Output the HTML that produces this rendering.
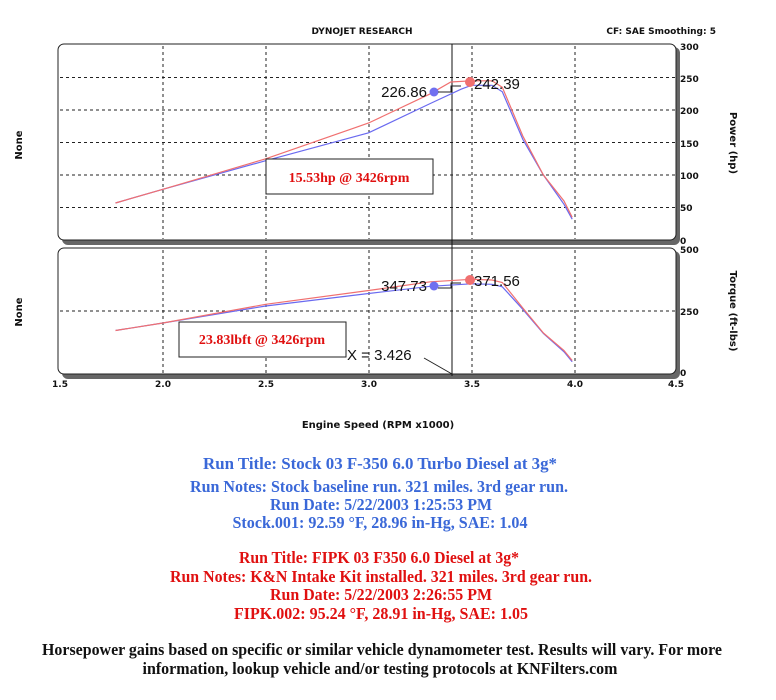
<!DOCTYPE html><html><head><style>body{margin:0;background:#fff}svg{display:block}</style></head><body>
<svg width="776" height="700" xmlns="http://www.w3.org/2000/svg" font-family="DejaVu Sans, sans-serif">
<text x="362" y="34" font-size="9" font-weight="bold" text-anchor="middle" fill="#111">DYNOJET RESEARCH</text>
<text x="716" y="34" font-size="9" font-weight="bold" text-anchor="end" fill="#111">CF: SAE  Smoothing: 5</text>
<rect x="62" y="47" width="618" height="198" rx="6" fill="#666"/>
<rect x="58" y="44" width="618" height="196" rx="6" fill="#fff" stroke="#222"/>
<rect x="62" y="251" width="618" height="128" rx="6" fill="#666"/>
<rect x="58" y="248" width="618" height="126" rx="6" fill="#fff" stroke="#222"/>
<g stroke="#222" stroke-dasharray="3,3" stroke-width="1">
<line x1="163" y1="46" x2="163" y2="239"/><line x1="266" y1="46" x2="266" y2="239"/><line x1="369" y1="46" x2="369" y2="239"/><line x1="472" y1="46" x2="472" y2="239"/><line x1="575" y1="46" x2="575" y2="239"/>
<line x1="60" y1="77.5" x2="675" y2="77.5"/><line x1="60" y1="110" x2="675" y2="110"/><line x1="60" y1="142.5" x2="675" y2="142.5"/><line x1="60" y1="175" x2="675" y2="175"/><line x1="60" y1="207.5" x2="675" y2="207.5"/>
<line x1="163" y1="250" x2="163" y2="373"/><line x1="266" y1="250" x2="266" y2="373"/><line x1="369" y1="250" x2="369" y2="373"/><line x1="472" y1="250" x2="472" y2="373"/><line x1="575" y1="250" x2="575" y2="373"/>
<line x1="60" y1="311" x2="675" y2="311"/>
</g>
<line x1="452" y1="44" x2="452" y2="376" stroke="#111"/>
<polyline fill="none" stroke="#6a6af0" stroke-width="1.2" points="115.5,203 162.9,189.3 265.7,160.7 368.6,132.8 430.3,103.5 461.1,89.2 471.4,85.3 492,85.3 502.3,91.8 522.8,139.3 543.4,175 564,204.3 572.2,219.2"/>
<polyline fill="none" stroke="#f07070" stroke-width="1.2" points="115.5,203 162.9,189.3 265.7,158.8 368.6,123 430.3,93.8 450.8,82 471.4,80.8 492,80.8 502.3,87.3 522.8,136 543.4,175 564,201 572.2,217.3"/>
<polyline fill="none" stroke="#6a6af0" stroke-width="1.2" points="115.5,330.5 162.9,323 265.7,306 368.6,293.5 430.3,286.3 471.4,283.8 492,284.3 502.3,286.8 522.8,309.3 543.4,333.5 564,351.8 572.2,361.8"/>
<polyline fill="none" stroke="#f07070" stroke-width="1.2" points="115.5,330.5 162.9,323 265.7,304.3 368.6,290.5 430.3,281.8 471.4,279.3 492,280 502.3,282.5 522.8,308 543.4,333 564,350.5 572.2,360.5"/>
<circle cx="434" cy="92" r="4.5" fill="#7070f0"/><circle cx="470" cy="82" r="5" fill="#f07070"/>
<circle cx="434" cy="286" r="4.5" fill="#7070f0"/><circle cx="470" cy="280" r="5" fill="#f07070"/>
<g stroke="#222" fill="none"><polyline points="438,92 451,92 451,86 461,86"/><polyline points="438,288 451,288 451,283 461,283"/><line x1="424" y1="358" x2="452" y2="374"/></g>
<g font-family="Liberation Sans, sans-serif" font-size="15" fill="#111">
<text x="474" y="89">242.39</text><text x="427" y="97" text-anchor="end">226.86</text>
<text x="474" y="286">371.56</text><text x="427" y="291" text-anchor="end">347.73</text>
<text x="347" y="360">X = 3.426</text></g>
<rect x="266" y="159" width="167" height="35" fill="#fff" stroke="#222"/>
<text x="349" y="182" font-family="Liberation Serif, serif" font-weight="bold" font-size="14" fill="#e01010" text-anchor="middle">15.53hp @ 3426rpm</text>
<rect x="179" y="322" width="167" height="35" fill="#fff" stroke="#222"/>
<text x="262" y="344" font-family="Liberation Serif, serif" font-weight="bold" font-size="14" fill="#e01010" text-anchor="middle">23.83lbft @ 3426rpm</text>
<g font-size="9" font-weight="bold" fill="#111">
<text x="680" y="50">300</text><text x="680" y="82">250</text><text x="680" y="114">200</text><text x="680" y="147">150</text><text x="680" y="179">100</text><text x="680" y="211">50</text><text x="680" y="244">0</text>
<text x="680" y="253">500</text><text x="680" y="315">250</text><text x="680" y="376">0</text>
<g text-anchor="middle"><text x="60" y="387">1.5</text><text x="163" y="387">2.0</text><text x="266" y="387">2.5</text><text x="369" y="387">3.0</text><text x="472" y="387">3.5</text><text x="575" y="387">4.0</text><text x="676" y="387">4.5</text></g>
<text x="378" y="428" font-size="10" text-anchor="middle">Engine Speed (RPM x1000)</text>
<text transform="translate(22,145) rotate(-90)" text-anchor="middle" font-size="10">None</text>
<text transform="translate(22,312) rotate(-90)" text-anchor="middle" font-size="10">None</text>
<text transform="translate(730,143) rotate(90)" text-anchor="middle" font-size="10">Power (hp)</text>
<text transform="translate(730,311) rotate(90)" text-anchor="middle" font-size="10">Torque (ft-lbs)</text>
</g>
<g font-family="Liberation Serif, serif" font-weight="bold" font-size="16.5" text-anchor="middle">
<g fill="#3a68d8">
<text x="380" y="469" textLength="354" lengthAdjust="spacingAndGlyphs">Run Title: Stock 03 F-350 6.0 Turbo Diesel at 3g*</text>
<text x="379" y="492" textLength="378" lengthAdjust="spacingAndGlyphs">Run Notes: Stock baseline run. 321 miles. 3rd gear run.</text>
<text x="381" y="510" textLength="222" lengthAdjust="spacingAndGlyphs">Run Date: 5/22/2003 1:25:53 PM</text>
<text x="380" y="528" textLength="295" lengthAdjust="spacingAndGlyphs">Stock.001: 92.59 °F, 28.96 in-Hg, SAE: 1.04</text></g>
<g fill="#e01010">
<text x="379" y="563" textLength="280" lengthAdjust="spacingAndGlyphs">Run Title: FIPK 03 F350 6.0 Diesel at 3g*</text>
<text x="381" y="582" textLength="422" lengthAdjust="spacingAndGlyphs">Run Notes: K&amp;N Intake Kit installed. 321 miles. 3rd gear run.</text>
<text x="381" y="600" textLength="222" lengthAdjust="spacingAndGlyphs">Run Date: 5/22/2003 2:26:55 PM</text>
<text x="381" y="619" textLength="294" lengthAdjust="spacingAndGlyphs">FIPK.002: 95.24 °F, 28.91 in-Hg, SAE: 1.05</text></g>
<g fill="#111">
<text x="382" y="655" textLength="680" lengthAdjust="spacingAndGlyphs">Horsepower gains based on specific or similar vehicle dynamometer test. Results will vary. For more</text>
<text x="380" y="674" textLength="475" lengthAdjust="spacingAndGlyphs">information, lookup vehicle and/or testing protocols at KNFilters.com</text></g>
</g>
</svg></body></html>
